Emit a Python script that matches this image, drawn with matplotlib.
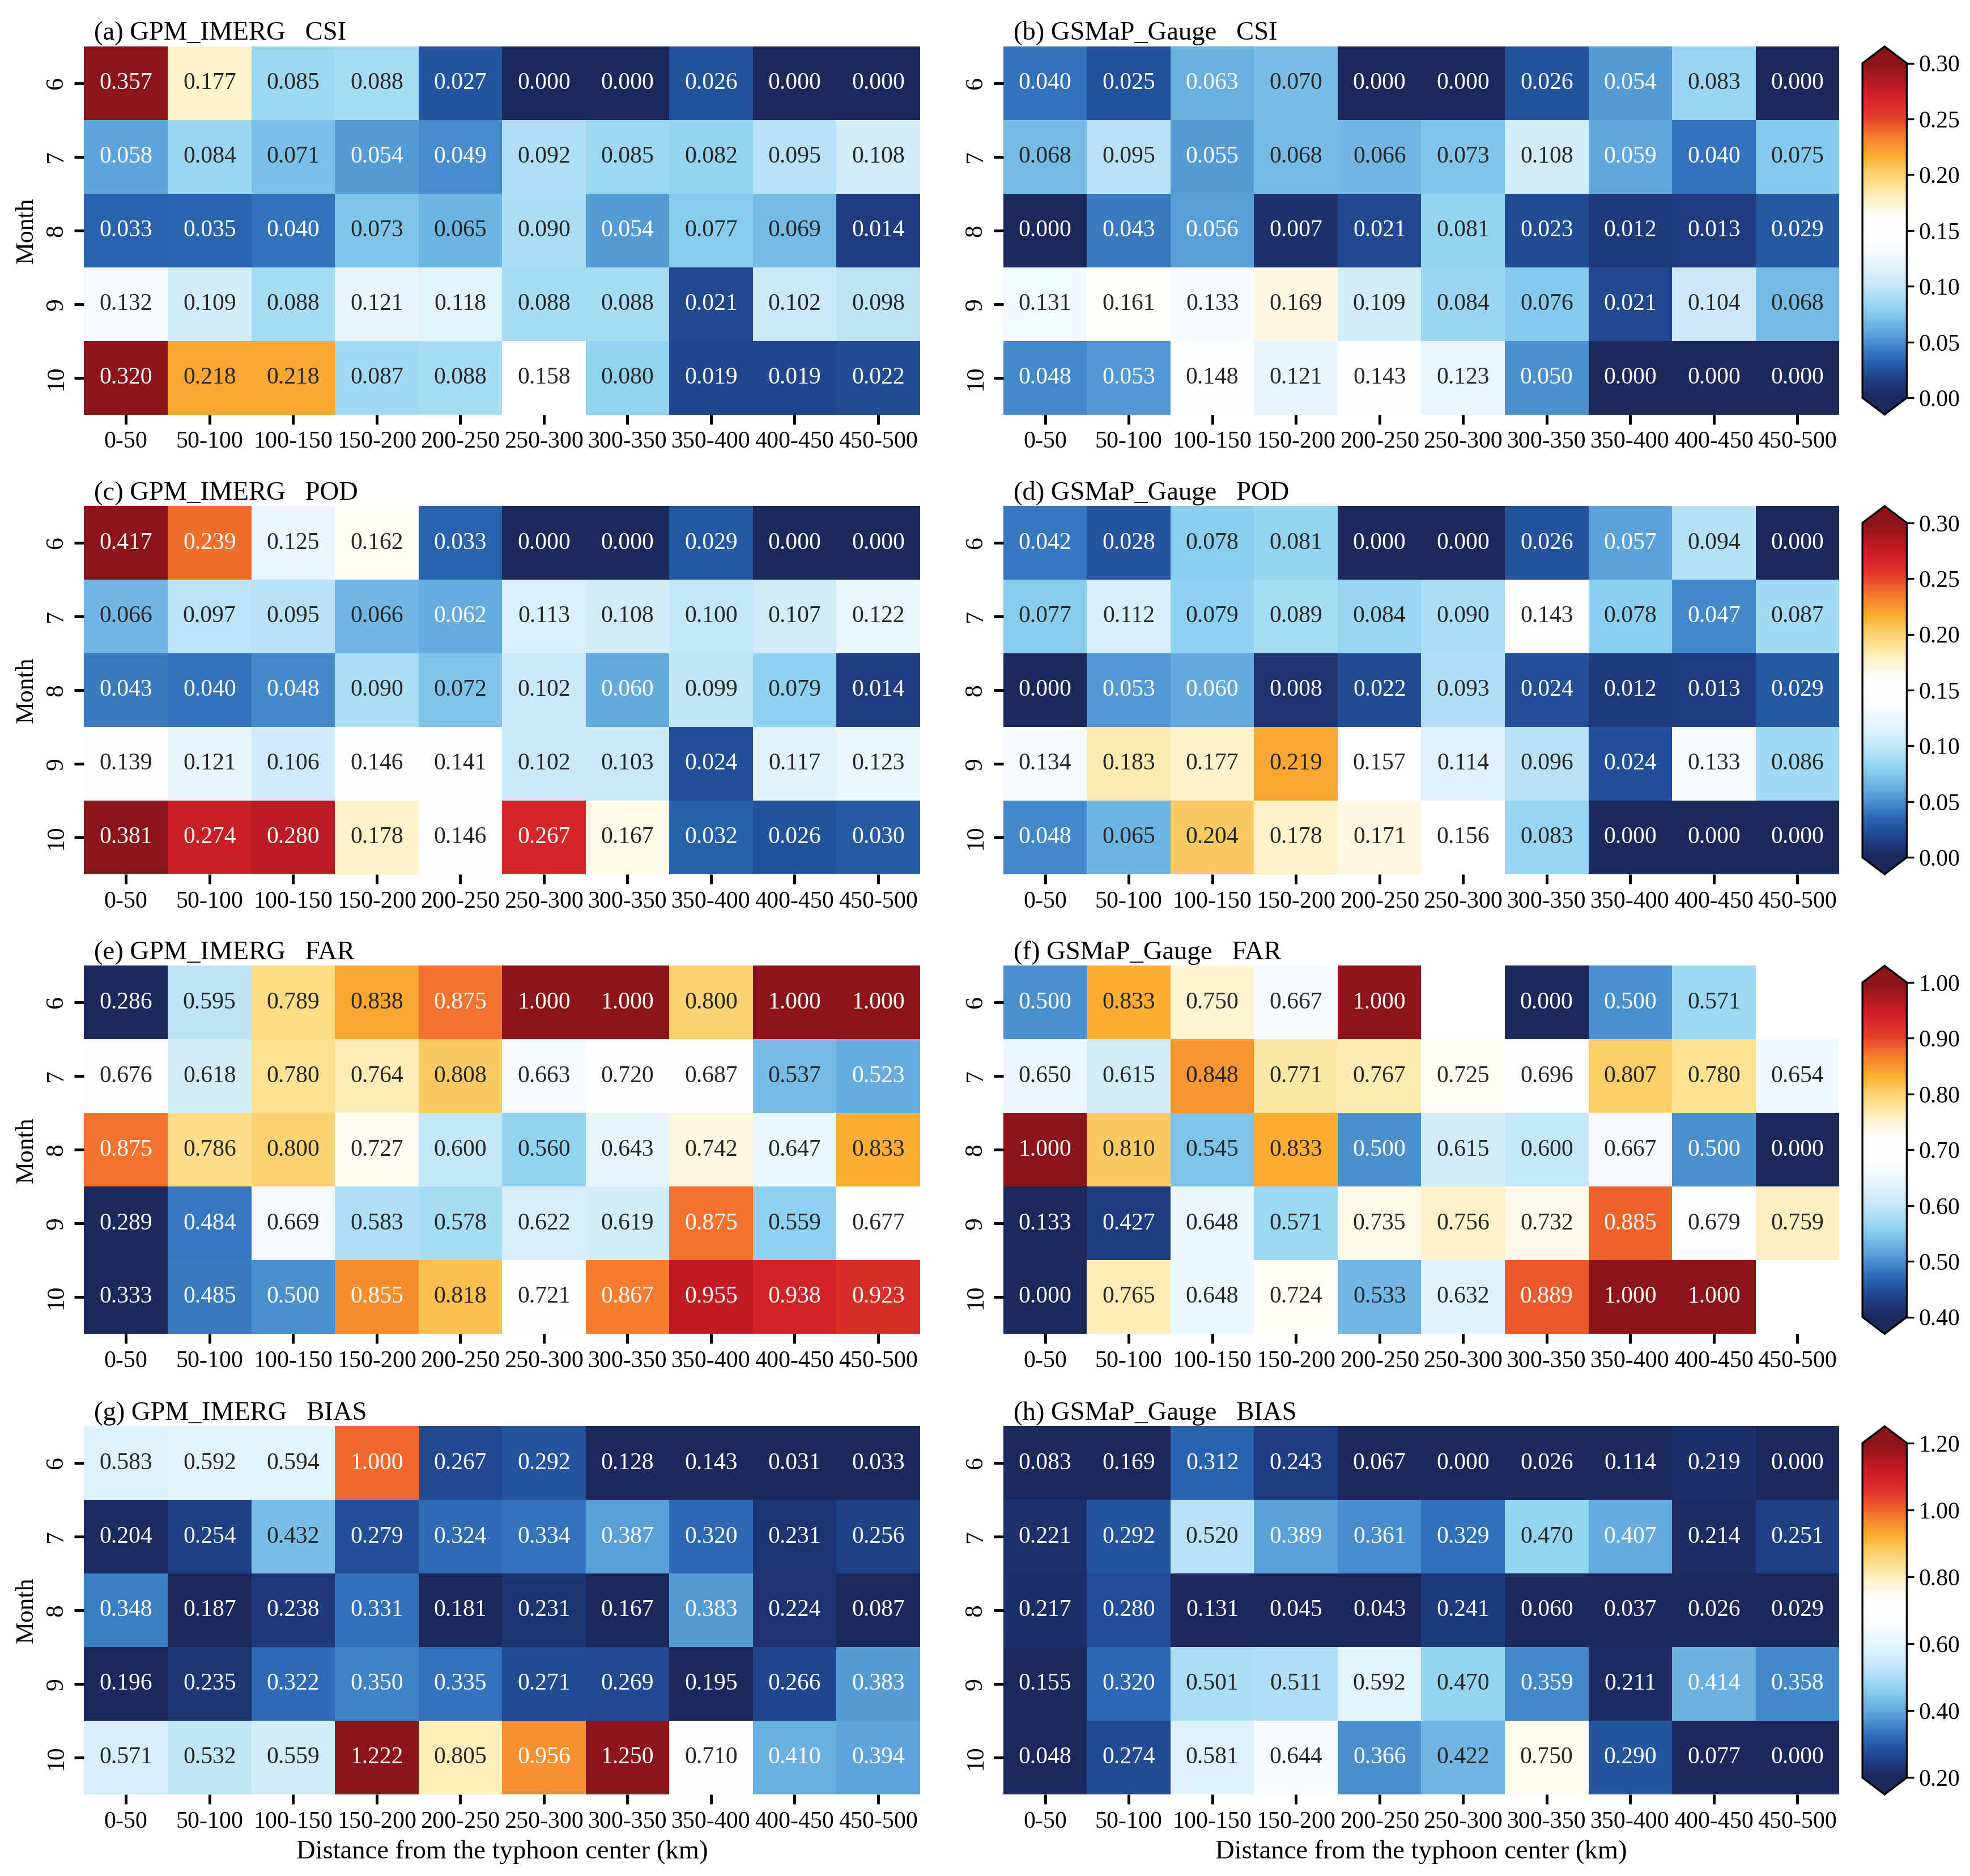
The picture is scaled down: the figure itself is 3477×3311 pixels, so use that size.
import numpy as np
import matplotlib as mpl
mpl.use("Agg")
import matplotlib.pyplot as plt
import seaborn as sns
from matplotlib.colors import LinearSegmentedColormap

mpl.rcParams.update({"font.family": "serif",
                     "font.serif": ["Liberation Serif", "DejaVu Serif"],
                     "axes.linewidth": 1.0})

dist = ["0-50", "50-100", "100-150", "150-200", "200-250", "250-300",
        "300-350", "350-400", "400-450", "450-500"]
months = ["6", "7", "8", "9", "10"]
nan = np.nan

gpm_csi = [[0.357, 0.177, 0.085, 0.088, 0.027, 0.000, 0.000, 0.026, 0.000, 0.000],
           [0.058, 0.084, 0.071, 0.054, 0.049, 0.092, 0.085, 0.082, 0.095, 0.108],
           [0.033, 0.035, 0.040, 0.073, 0.065, 0.090, 0.054, 0.077, 0.069, 0.014],
           [0.132, 0.109, 0.088, 0.121, 0.118, 0.088, 0.088, 0.021, 0.102, 0.098],
           [0.320, 0.218, 0.218, 0.087, 0.088, 0.158, 0.080, 0.019, 0.019, 0.022]]
gsm_csi = [[0.040, 0.025, 0.063, 0.070, 0.000, 0.000, 0.026, 0.054, 0.083, 0.000],
           [0.068, 0.095, 0.055, 0.068, 0.066, 0.073, 0.108, 0.059, 0.040, 0.075],
           [0.000, 0.043, 0.056, 0.007, 0.021, 0.081, 0.023, 0.012, 0.013, 0.029],
           [0.131, 0.161, 0.133, 0.169, 0.109, 0.084, 0.076, 0.021, 0.104, 0.068],
           [0.048, 0.053, 0.148, 0.121, 0.143, 0.123, 0.050, 0.000, 0.000, 0.000]]
gpm_pod = [[0.417, 0.239, 0.125, 0.162, 0.033, 0.000, 0.000, 0.029, 0.000, 0.000],
           [0.066, 0.097, 0.095, 0.066, 0.062, 0.113, 0.108, 0.100, 0.107, 0.122],
           [0.043, 0.040, 0.048, 0.090, 0.072, 0.102, 0.060, 0.099, 0.079, 0.014],
           [0.139, 0.121, 0.106, 0.146, 0.141, 0.102, 0.103, 0.024, 0.117, 0.123],
           [0.381, 0.274, 0.280, 0.178, 0.146, 0.267, 0.167, 0.032, 0.026, 0.030]]
gsm_pod = [[0.042, 0.028, 0.078, 0.081, 0.000, 0.000, 0.026, 0.057, 0.094, 0.000],
           [0.077, 0.112, 0.079, 0.089, 0.084, 0.090, 0.143, 0.078, 0.047, 0.087],
           [0.000, 0.053, 0.060, 0.008, 0.022, 0.093, 0.024, 0.012, 0.013, 0.029],
           [0.134, 0.183, 0.177, 0.219, 0.157, 0.114, 0.096, 0.024, 0.133, 0.086],
           [0.048, 0.065, 0.204, 0.178, 0.171, 0.156, 0.083, 0.000, 0.000, 0.000]]
gpm_far = [[0.286, 0.595, 0.789, 0.838, 0.875, 1.000, 1.000, 0.800, 1.000, 1.000],
           [0.676, 0.618, 0.780, 0.764, 0.808, 0.663, 0.720, 0.687, 0.537, 0.523],
           [0.875, 0.786, 0.800, 0.727, 0.600, 0.560, 0.643, 0.742, 0.647, 0.833],
           [0.289, 0.484, 0.669, 0.583, 0.578, 0.622, 0.619, 0.875, 0.559, 0.677],
           [0.333, 0.485, 0.500, 0.855, 0.818, 0.721, 0.867, 0.955, 0.938, 0.923]]
gsm_far = [[0.500, 0.833, 0.750, 0.667, 1.000, nan, 0.000, 0.500, 0.571, nan],
           [0.650, 0.615, 0.848, 0.771, 0.767, 0.725, 0.696, 0.807, 0.780, 0.654],
           [1.000, 0.810, 0.545, 0.833, 0.500, 0.615, 0.600, 0.667, 0.500, 0.000],
           [0.133, 0.427, 0.648, 0.571, 0.735, 0.756, 0.732, 0.885, 0.679, 0.759],
           [0.000, 0.765, 0.648, 0.724, 0.533, 0.632, 0.889, 1.000, 1.000, nan]]
gpm_bias = [[0.583, 0.592, 0.594, 1.000, 0.267, 0.292, 0.128, 0.143, 0.031, 0.033],
            [0.204, 0.254, 0.432, 0.279, 0.324, 0.334, 0.387, 0.320, 0.231, 0.256],
            [0.348, 0.187, 0.238, 0.331, 0.181, 0.231, 0.167, 0.383, 0.224, 0.087],
            [0.196, 0.235, 0.322, 0.350, 0.335, 0.271, 0.269, 0.195, 0.266, 0.383],
            [0.571, 0.532, 0.559, 1.222, 0.805, 0.956, 1.250, 0.710, 0.410, 0.394]]
gsm_bias = [[0.083, 0.169, 0.312, 0.243, 0.067, 0.000, 0.026, 0.114, 0.219, 0.000],
            [0.221, 0.292, 0.520, 0.389, 0.361, 0.329, 0.470, 0.407, 0.214, 0.251],
            [0.217, 0.280, 0.131, 0.045, 0.043, 0.241, 0.060, 0.037, 0.026, 0.029],
            [0.155, 0.320, 0.501, 0.511, 0.592, 0.470, 0.359, 0.211, 0.414, 0.358],
            [0.048, 0.274, 0.581, 0.644, 0.366, 0.422, 0.750, 0.290, 0.077, 0.000]]

# colour ramp: navy -> blue -> sky -> white -> yellow -> orange -> dark red
stops = [(0.00, (27, 40, 92)), (0.04, (30, 58, 125)), (0.09, (35, 85, 160)),
         (0.13, (50, 112, 186)), (0.16, (70, 140, 205)), (0.20, (100, 170, 222)),
         (0.26, (140, 208, 240)), (0.30, (170, 222, 245)), (0.34, (200, 232, 248)),
         (0.40, (230, 245, 252)), (0.46, (252, 253, 255)), (0.53, (255, 255, 255)),
         (0.59, (253, 243, 205)), (0.63, (252, 228, 150)), (0.68, (251, 205, 100)),
         (0.72, (251, 175, 50)), (0.78, (245, 125, 45)), (0.85, (225, 55, 40)),
         (0.91, (205, 30, 40)), (1.00, (140, 20, 25))]
cmap = LinearSegmentedColormap.from_list(
    "bwr_custom", [(p, tuple(c / 255 for c in rgb)) for p, rgb in stops])

rows = [("CSI", gpm_csi, gsm_csi, 0.0, 0.30, np.arange(0, 0.31, 0.05)),
        ("POD", gpm_pod, gsm_pod, 0.0, 0.30, np.arange(0, 0.31, 0.05)),
        ("FAR", gpm_far, gsm_far, 0.4, 1.00, np.arange(0.4, 1.01, 0.1)),
        ("BIAS", gpm_bias, gsm_bias, 0.2, 1.20, np.arange(0.2, 1.21, 0.2))]
letters = "abcdefgh"
ybot = [0.779, 0.534, 0.289, 0.0435]
H = 0.1962

fig = plt.figure(figsize=(11.59, 11.037), dpi=300)
for r, (name, d1, d2, vmin, vmax, ticks) in enumerate(rows):
    for c, (prod, d) in enumerate([("GPM_IMERG", d1), ("GSMaP_Gauge", d2)]):
        x0 = 0.0427 if c == 0 else 0.5093
        ax = fig.add_axes([x0, ybot[r], 0.4243, H])
        sns.heatmap(np.array(d, dtype=float), ax=ax, cmap=cmap, vmin=vmin, vmax=vmax,
                    annot=True, fmt=".3f", cbar=False,
                    annot_kws={"fontsize": 10},
                    xticklabels=dist, yticklabels=months)
        ax.tick_params(axis="both", length=4, width=1.2, pad=3)
        ax.tick_params(axis="x", labelsize=10.1)
        ax.tick_params(axis="y", labelsize=10.5)
        ax.set_yticklabels(months, rotation=90, va="center")
        ax.set_xticklabels(dist, rotation=0)
        ax.text(0.012, 1.018, f"({letters[2 * r + c]}) {prod}   {name}",
                transform=ax.transAxes, fontsize=11.2, va="baseline", ha="left")
        if c == 0:
            ax.set_ylabel("Month", fontsize=10.5, labelpad=3)
        if r == 3:
            ax.set_xlabel("Distance from the typhoon center (km)", fontsize=11.2, labelpad=3)
        if c == 1:
            cax = fig.add_axes([0.9454, ybot[r], 0.0225, H])
            cb = fig.colorbar(ax.collections[0], cax=cax, extend="both", ticks=ticks)
            cb.ax.set_yticklabels([f"{t:.2f}" for t in ticks])
            cb.ax.tick_params(labelsize=10, length=3, width=0.8, pad=2)
            cb.outline.set_linewidth(0.8)

fig.savefig("out.png", dpi=300)
